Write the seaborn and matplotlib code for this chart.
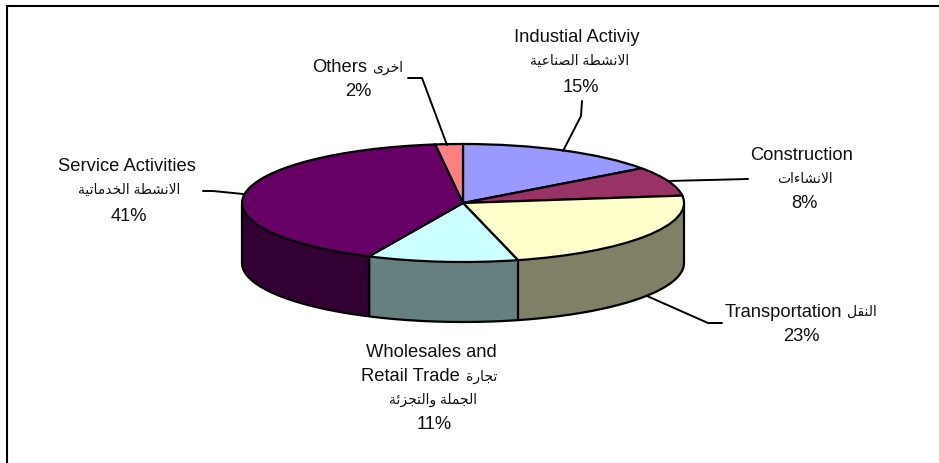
import numpy as np
import matplotlib
matplotlib.use("Agg")
import matplotlib.pyplot as plt
import seaborn as sns

# ---- data -------------------------------------------------------------
shares = [15, 8, 23, 11, 41, 2]
top_colors = ["#9999FF", "#993366", "#FFFFCC", "#CCFFFF", "#660066", "#FF8080"]
side_colors = ["#4C4C80", "#4C1933", "#808066", "#668080", "#330033", "#804040"]
names_en = ["Industial Activiy", "Construction", "Transportation",
            "Wholesales and", "Service Activities", "Others"]
names_ar = ["الانشطة الصناعية", "الانشاءات", "النقل",
            "تجارة", "الانشطة الخدماتية", "اخرى"]
name_en_extra = "Retail Trade"
name_ar_extra = "الجملة والتجزئة"
pct_labels = ["15%", "8%", "23%", "11%", "41%", "2%"]

W, H = 939, 464
CX, CY, RX, RY, DEPTH = 463, 204, 221, 59, 60   # pie geometry, pixels

# ---- Arabic shaping (matplotlib has no bidi / joining of its own) ------
FORMS = {
    "ا": (0xFE8D, 0xFE8E), "ء": (0xFE80, 0xFE80), "ة": (0xFE93, 0xFE94),
    "د": (0xFEA9, 0xFEAA), "ر": (0xFEAD, 0xFEAE), "ز": (0xFEAF, 0xFEB0),
    "و": (0xFEED, 0xFEEE), "ى": (0xFEEF, 0xFEF0),
    "ت": (0xFE95, 0xFE96, 0xFE97, 0xFE98), "ج": (0xFE9D, 0xFE9E, 0xFE9F, 0xFEA0),
    "خ": (0xFEA5, 0xFEA6, 0xFEA7, 0xFEA8), "ش": (0xFEB5, 0xFEB6, 0xFEB7, 0xFEB8),
    "ص": (0xFEB9, 0xFEBA, 0xFEBB, 0xFEBC), "ط": (0xFEC1, 0xFEC2, 0xFEC3, 0xFEC4),
    "ع": (0xFEC9, 0xFECA, 0xFECB, 0xFECC), "ق": (0xFED5, 0xFED6, 0xFED7, 0xFED8),
    "ل": (0xFEDD, 0xFEDE, 0xFEDF, 0xFEE0), "م": (0xFEE1, 0xFEE2, 0xFEE3, 0xFEE4),
    "ن": (0xFEE5, 0xFEE6, 0xFEE7, 0xFEE8), "ي": (0xFEF1, 0xFEF2, 0xFEF3, 0xFEF4),
    "ئ": (0xFE89, 0xFE8A, 0xFE8B, 0xFE8C),
}


def shape(text):
    out = []
    for word in text.split(" "):
        glyphs, joined = [], False
        i = 0
        while i < len(word):
            c = word[i]
            if c == "ل" and i + 1 < len(word) and word[i + 1] == "ا":
                glyphs.append(chr(0xFEFC if joined else 0xFEFB))
                joined = False
                i += 2
                continue
            f = FORMS[c]
            has_next = i + 1 < len(word)
            if len(f) == 2 or c == "ى":
                glyphs.append(chr(f[1] if joined else f[0]))
                joined = False
            else:
                if joined and has_next:
                    glyphs.append(chr(f[3]))
                elif joined:
                    glyphs.append(chr(f[1]))
                elif has_next:
                    glyphs.append(chr(f[2]))
                else:
                    glyphs.append(chr(f[0]))
                joined = has_next
            i += 1
        out.append("".join(reversed(glyphs)))
    return " ".join(reversed(out))


# ---- figure -----------------------------------------------------------
sns.set_theme(style="white")
plt.rcParams["font.family"] = ["Liberation Sans", "DejaVu Sans"]
fig = plt.figure(figsize=(W / 100, H / 100), dpi=100, facecolor="white")

ax = fig.add_axes([0, 0, 1, 1])
depth = DEPTH / RY
LW = 1.6
for step in range(DEPTH, 0, -1):
    ax.pie(shares, colors=side_colors, startangle=90, counterclock=False,
           center=(0, -step / RY), wedgeprops=dict(linewidth=0))

# wall outline: lower rim, silhouette and the seams at slice boundaries
theta = np.linspace(np.pi, 2 * np.pi, 300)
ax.plot(np.cos(theta), np.sin(theta) - depth, color="black", lw=LW, zorder=1.5)
angles = np.deg2rad(np.cumsum(shares) * 3.6)
xs = np.sin(angles)
ys = np.cos(angles)
front = ys < 0
ax.vlines(xs[front], ys[front], ys[front] - depth, colors="black", linewidth=LW, zorder=1.5)
ax.vlines([-1, 1], [0, 0], [-depth, -depth], colors="black", linewidth=LW, zorder=1.5)

wedges, _ = ax.pie(shares, colors=top_colors, startangle=90, counterclock=False,
                   wedgeprops=dict(edgecolor="black", linewidth=LW))
for w in wedges:
    w.set_zorder(2)
ax.set_aspect("auto")
ax.set_xlim(-CX / RX, (W - CX) / RX)
ax.set_ylim(-(H - CY) / RY, CY / RY)

# overlay in pixel coordinates for the frame, leaders and labels
ann = fig.add_axes([0, 0, 1, 1], facecolor="none")
ann.set_xlim(0, W)
ann.set_ylim(H, 0)
ann.axis("off")

ann.plot([7, 7, W], [H, 7, 7], color="black", lw=1.5, solid_joinstyle="miter",
         clip_on=False)

leaders = [
    ([582, 581, 563], [102, 117, 152]),
    ([748, 668], [180, 182]),
    ([722, 708, 647], [324, 324, 297]),
    ([203, 213, 243], [192, 192, 195]),
    ([408, 422, 447], [79, 79, 146]),
]
for lx, ly in leaders:
    ann.plot(lx, ly, color="black", lw=1.4, solid_joinstyle="round")

EN = 10.6 * 1.25
AR = 7.6 * 1.32
TXT = "#111111"


def put(x, y, s, size=EN, ha="center"):
    ann.text(x, y + 1, s, ha=ha, va="center", fontsize=size, color=TXT)


put(577, 36, names_en[0])
put(580, 60, shape(names_ar[0]), AR)
put(581, 86, pct_labels[0])

put(802, 155, names_en[1])
put(805, 178, shape(names_ar[1]), AR)
put(804, 203, pct_labels[1])

put(842, 312, names_en[2], ha="right")
put(847, 311, shape(names_ar[2]), AR, ha="left")
put(801, 336, pct_labels[2])

put(431, 352, names_en[3])
put(460, 376, name_en_extra, ha="right")
put(466, 376, shape(names_ar[3]), AR, ha="left")
put(433, 399, shape(name_ar_extra), AR)
put(434, 424, pct_labels[3])

put(127, 166, names_en[4])
put(129, 189, shape(names_ar[4]), AR)
put(129, 216, pct_labels[4])

put(367, 67, names_en[5], ha="right")
put(372, 67, shape(names_ar[5]), AR, ha="left")
put(358, 91, pct_labels[5])

fig.savefig("out.png", dpi=100, facecolor="white")
